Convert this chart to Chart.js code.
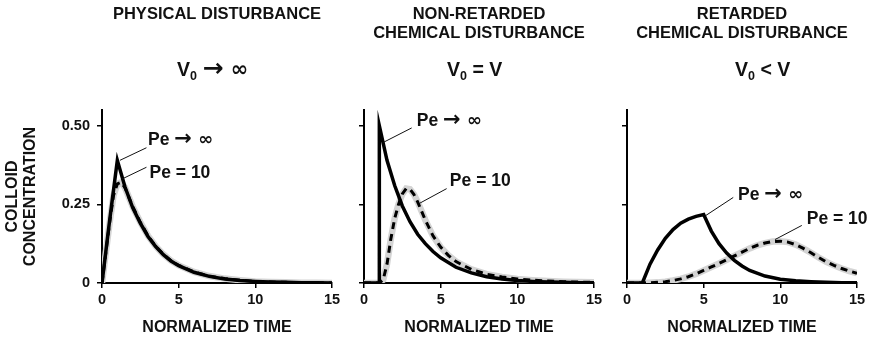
<!DOCTYPE html>
<html>
<head>
<meta charset="utf-8">
<script src="https://cdn.jsdelivr.net/npm/chart.js@4.4.1/dist/chart.umd.min.js"></script>
<style>
  body { margin: 0; background: #fff; }
  #wrap { position: relative; width: 874px; height: 340px; }
  #wrap canvas { position: absolute; top: 0; }
</style>
</head>
<body>
<div id="wrap">
  <canvas id="physChart" width="346" height="340" style="left:0px"></canvas>
  <canvas id="nonRetChart" width="262" height="340" style="left:346px"></canvas>
  <canvas id="retChart" width="266" height="340" style="left:608px"></canvas>
</div>
<script>
// ticks
const timeTicks = [0, 5, 10, 15];
const concTicks = [0, 0.25, 0.5];
const concTickLabels = ['0', '0.25', '0.50'];

// physical disturbance, V0 -> inf
const physTimeInf  = [0, 0.25, 0.5, 0.75, 1, 1.5, 2, 2.5, 3, 3.5, 4, 4.5, 5, 6, 7, 8, 9, 10, 11, 12, 13, 14, 15];
const physConcInf  = [0, 0.1, 0.2, 0.295, 0.39, 0.305, 0.24, 0.19, 0.148, 0.116, 0.09, 0.07, 0.055, 0.034, 0.021, 0.013, 0.008, 0.005, 0.003, 0.002, 0.001, 0.001, 0];
const physTimePe10 = [0, 0.25, 0.5, 0.75, 1, 1.25, 1.5, 2, 2.5, 3, 3.5, 4, 4.5, 5, 6, 7, 8, 9, 10, 11, 12, 13, 14, 15];
const physConcPe10 = [0, 0.097, 0.193, 0.278, 0.315, 0.32, 0.303, 0.243, 0.193, 0.15, 0.117, 0.091, 0.071, 0.056, 0.035, 0.022, 0.014, 0.009, 0.005, 0.003, 0.002, 0.001, 0.001, 0];

// non-retarded chemical disturbance, V0 = V
const nonRetTimeInf  = [0, 1, 1, 1.5, 2, 2.5, 3, 3.5, 4, 4.5, 5, 6, 7, 8, 9, 10, 11, 12, 13, 14, 15];
const nonRetConcInf  = [0, 0, 0.5, 0.39, 0.31, 0.245, 0.195, 0.155, 0.125, 0.1, 0.08, 0.05, 0.032, 0.02, 0.013, 0.008, 0.005, 0.003, 0.002, 0.001, 0.001];
const nonRetTimePe10 = [0, 1, 1.25, 1.5, 1.75, 2, 2.25, 2.5, 2.75, 3, 3.25, 3.5, 4, 4.5, 5, 5.5, 6, 7, 8, 9, 10, 11, 12, 13, 14, 15];
const nonRetConcPe10 = [0, 0, 0.01, 0.06, 0.14, 0.205, 0.25, 0.283, 0.3, 0.298, 0.282, 0.258, 0.2, 0.15, 0.114, 0.088, 0.068, 0.043, 0.028, 0.019, 0.013, 0.009, 0.006, 0.004, 0.003, 0.002];

// retarded chemical disturbance, V0 < V
const retTimeInf  = [0, 1, 1.5, 2, 2.5, 3, 3.5, 4, 4.5, 5, 5.5, 6, 6.5, 7, 7.5, 8, 9, 10, 11, 12, 13, 14, 15];
const retConcInf  = [0, 0, 0.06, 0.105, 0.142, 0.17, 0.19, 0.203, 0.212, 0.218, 0.165, 0.125, 0.095, 0.072, 0.054, 0.04, 0.022, 0.012, 0.007, 0.004, 0.002, 0.001, 0.001];
const retTimePe10 = [0, 1, 1.5, 2, 2.5, 3, 3.5, 4, 4.5, 5, 5.5, 6, 6.5, 7, 7.5, 8, 8.5, 9, 9.5, 10, 10.5, 11, 11.5, 12, 12.5, 13, 13.5, 14, 14.5, 15];
const retConcPe10 = [0, 0, 0.001, 0.002, 0.004, 0.008, 0.013, 0.02, 0.029, 0.04, 0.051, 0.062, 0.074, 0.086, 0.098, 0.11, 0.12, 0.127, 0.132, 0.133, 0.13, 0.122, 0.11, 0.096, 0.081, 0.067, 0.056, 0.046, 0.038, 0.031];

const fam = "'Liberation Sans', Arial, 'DejaVu Sans', sans-serif";
const symFam = "'DejaVu Sans', sans-serif";
const ink = '#111';
Chart.defaults.font.family = fam;
Chart.defaults.color = ink;

const toPoints = (ts, vs) => ts.map((t, i) => ({x: t, y: vs[i]}));

function makeDatasets(tInf, cInf, tPe, cPe) {
    return [
        {label: 'Pe -> inf', data: toPoints(tInf, cInf), borderColor: '#000', borderWidth: 3.5,
         borderJoinStyle: 'miter', order: 0},
        {label: 'Pe = 10', data: toPoints(tPe, cPe), borderColor: '#000', borderWidth: 3,
         borderDash: [7, 5], order: 1},
        {label: 'Pe = 10 band', data: toPoints(tPe, cPe), borderColor: '#d4d4d4', borderWidth: 6.5, order: 2}
    ];
}

// text pieces: [text, font, dy]
function drawPieces(ctx, pieces, x, y) {
    pieces.forEach(([txt, font, dy]) => {
        ctx.font = font;
        ctx.fillText(txt, x, y + (dy || 0));
        x += ctx.measureText(txt).width;
    });
}

const big = 'bold 19.5px ' + fam;
const peFont = 'bold 17.5px ' + fam;

// titles, V0 line and the Pe labels with their leader lines
const panelText = {
    id: 'panelText',
    afterDraw(chart, args, opts) {
        const {ctx, chartArea, scales: {x, y}} = chart;
        ctx.save();
        ctx.fillStyle = ink;
        ctx.strokeStyle = ink;

        ctx.font = 'bold 16.5px ' + fam;
        ctx.textAlign = 'center';
        ctx.textBaseline = 'middle';
        const cx = (chartArea.left + chartArea.right) / 2;
        opts.title.forEach((line, i) => ctx.fillText(line, cx, 14 + i * 19.3));

        // V0 with subscript
        ctx.textAlign = 'left';
        ctx.textBaseline = 'alphabetic';
        drawPieces(ctx, [['V', big], ['0', 'bold 12.5px ' + fam, 4]].concat(opts.vRest), opts.vLeft, 76);

        // Pe labels
        ctx.lineWidth = 1;
        opts.labels.forEach(lab => {
            ctx.beginPath();
            ctx.moveTo(x.getPixelForValue(lab.from[0]), y.getPixelForValue(lab.from[1]));
            ctx.lineTo(x.getPixelForValue(lab.to[0]), y.getPixelForValue(lab.to[1]));
            ctx.stroke();
            drawPieces(ctx, lab.text, x.getPixelForValue(lab.at[0]), y.getPixelForValue(lab.at[1]) + 6);
        });
        ctx.restore();
    }
};

const peInf = [['Pe ', peFont], ['\u2192', 'bold 21px ' + symFam, 0], [' \u221E', 'bold 18px ' + symFam]];
const pe10 = [['Pe = 10', peFont]];

function makeChart(id, datasets, cfg) {
    return new Chart(document.getElementById(id), {
        type: 'line',
        data: {datasets: datasets},
        plugins: [panelText],
        options: {
            responsive: false,
            animation: false,
            events: [],
            layout: {padding: {top: 110, right: cfg.padRight, bottom: 0, left: 0}},
            elements: {point: {radius: 0}, line: {tension: 0, fill: false}},
            plugins: {
                legend: {display: false},
                tooltip: {enabled: false},
                panelText: cfg.text
            },
            scales: {
                x: {
                    type: 'linear', min: 0, max: 15,
                    afterBuildTicks: s => { s.ticks = timeTicks.map(v => ({value: v})); },
                    afterFit: s => { s.height = 57; },
                    ticks: {padding: 3, font: {size: 14.5, weight: 'bold'}, color: ink},
                    grid: {drawOnChartArea: false, drawTicks: true, tickLength: 5, color: '#000', lineWidth: 1.5},
                    border: {display: true, color: '#000', width: 2},
                    title: {display: true, text: 'NORMALIZED TIME', color: ink,
                            font: {size: 16, weight: 'bold'}, padding: {top: 0, bottom: 3}}
                },
                y: {
                    type: 'linear', min: 0, max: 0.55,
                    afterBuildTicks: s => { s.ticks = concTicks.map(v => ({value: v})); },
                    afterFit: s => { s.width = cfg.axisWidth; },
                    ticks: {display: cfg.showY, padding: 7, font: {size: 14.5, weight: 'bold'}, color: ink,
                            callback: v => concTickLabels[concTicks.indexOf(v)]},
                    grid: {drawOnChartArea: false, drawTicks: true, tickLength: 5, color: '#000', lineWidth: 1.5},
                    border: {display: true, color: '#000', width: 2},
                    title: {display: cfg.showY, text: ['COLLOID', 'CONCENTRATION'], color: ink,
                            font: {size: 16, weight: 'bold', lineHeight: 1.1}, padding: {top: 4, bottom: 0}}
                }
            }
        }
    });
}

makeChart('physChart', makeDatasets(physTimeInf, physConcInf, physTimePe10, physConcPe10), {
    padRight: 14, axisWidth: 102, showY: true,
    text: {
        title: ['PHYSICAL DISTURBANCE'], vLeft: 177,
        vRest: [[' ', big], ['\u2192', 'bold 25px ' + symFam, 0], [' \u221E', 'bold 21px ' + symFam]],
        labels: [
            {text: peInf, from: [1.17, 0.39], to: [2.9, 0.43], at: [3.0, 0.457]},
            {text: pe10, from: [1.28, 0.33], to: [2.9, 0.368], at: [3.1, 0.354]}
        ]
    }
});

makeChart('nonRetChart', makeDatasets(nonRetTimeInf, nonRetConcInf, nonRetTimePe10, nonRetConcPe10), {
    padRight: 14, axisWidth: 18, showY: false,
    text: {
        title: ['NON-RETARDED', 'CHEMICAL DISTURBANCE'], vLeft: 101, vRest: [[' = V', big]],
        labels: [
            {text: peInf, from: [1.26, 0.447], to: [3.11, 0.493], at: [3.44, 0.517]},
            {text: pe10, from: [3.65, 0.254], to: [5.39, 0.30], at: [5.6, 0.327]}
        ]
    }
});

makeChart('retChart', makeDatasets(retTimeInf, retConcInf, retTimePe10, retConcPe10), {
    padRight: 17, axisWidth: 19, showY: false,
    text: {
        title: ['RETARDED', 'CHEMICAL DISTURBANCE'], vLeft: 127, vRest: [[' < V', big]],
        labels: [
            {text: peInf, from: [5.09, 0.213], to: [6.93, 0.272], at: [7.24, 0.282]},
            {text: pe10, from: [9.65, 0.138], to: [11.4, 0.183], at: [11.72, 0.207]}
        ]
    }
});
</script>
</body>
</html>
